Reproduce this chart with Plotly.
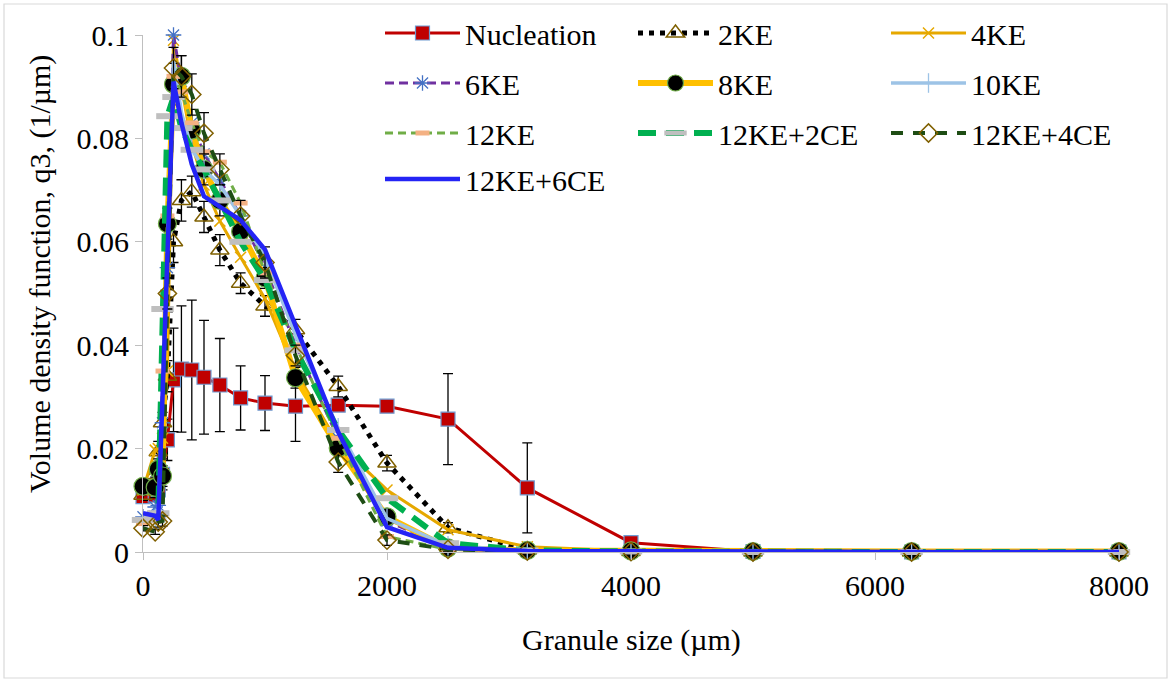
import plotly.graph_objects as go

# ---------------- data ----------------
granule_size = [0, 100, 125, 160, 200, 250, 315, 400, 500, 630, 800, 1000,
                1250, 1600, 2000, 2500, 3150, 4000, 5000, 6300, 8000]

nucleation = [0.0107, 0.0110, 0.0120, 0.0150, 0.0217, 0.0333, 0.0354, 0.0352, 0.0338, 0.0323, 0.0298,
              0.0288, 0.0282, 0.0284, 0.0282, 0.0257, 0.0124, 0.0018, 0.0001, 0.0, 0.0]
nucleation_err = [0.001, 0.001, 0.002, 0.003, 0.004, 0.010, 0.0122, 0.0135, 0.011, 0.009, 0.0062,
                  0.0053, 0.0068, 0.0010, 0.0005, 0.0088, 0.0087, 0.0003, 0.0, 0.0, 0.0]

ke2 = [0.0110, 0.0150, 0.0194, 0.0250, 0.0340, 0.0600, 0.0680, 0.0697, 0.0648, 0.0584, 0.0520,
       0.0476, 0.0430, 0.0320, 0.0172, 0.0047, 0.0004, 0.0001, 0.0, 0.0, 0.0]
ke2_err = [0.001, 0.002, 0.002, 0.002, 0.003, 0.004, 0.004, 0.003, 0.003, 0.003, 0.002,
           0.002, 0.002, 0.002, 0.0015, 0.001, 0.0003, 0.0, 0.0, 0.0, 0.0]

ke4 = [0.0120, 0.0197, 0.0200, 0.0220, 0.0350, 0.0990, 0.0900, 0.0790, 0.0710, 0.0640, 0.0570,
       0.0490, 0.0350, 0.0210, 0.0120, 0.0043, 0.0010, 0.0002, 0.0001, 0.0, 0.0]

ke6 = [0.0068, 0.0087, 0.0090, 0.0250, 0.0550, 0.1000, 0.0910, 0.0830, 0.0770, 0.0720, 0.0650,
       0.0550, 0.0400, 0.0220, 0.0060, 0.0008, 0.0002, 0.0001, 0.0, 0.0, 0.0]

ke8 = [0.0127, 0.0125, 0.0160, 0.0147, 0.0635, 0.0905, 0.0920, 0.0816, 0.0740, 0.0680, 0.0620,
       0.0530, 0.0337, 0.0201, 0.0068, 0.0008, 0.0003, 0.0002, 0.0001, 0.0001, 0.0001]
ke8_err = [0.001, 0.002, 0.002, 0.002, 0.003, 0.004, 0.004, 0.004, 0.003, 0.003, 0.002,
           0.002, 0.002, 0.001, 0.001, 0.0005, 0.0, 0.0, 0.0, 0.0, 0.0]

ke10 = [0.0060, 0.0065, 0.0080, 0.0300, 0.0600, 0.0950, 0.0850, 0.0780, 0.0740, 0.0710, 0.0650,
        0.0570, 0.0420, 0.0240, 0.0065, 0.0012, 0.0003, 0.0001, 0.0, 0.0, 0.0]

ke12 = [0.0055, 0.0060, 0.0070, 0.0350, 0.0650, 0.0920, 0.0890, 0.0830, 0.0774, 0.0754, 0.0675,
        0.0540, 0.0400, 0.0220, 0.0030, 0.0005, 0.0002, 0.0001, 0.0, 0.0, 0.0]

ke12_ce2 = [0.0062, 0.0065, 0.0075, 0.0470, 0.0843, 0.0880, 0.0820, 0.0778, 0.0740, 0.0680, 0.0600,
            0.0526, 0.0390, 0.0236, 0.0104, 0.0017, 0.0003, 0.0001, 0.0, 0.0, 0.0]

ke12_ce4 = [0.0046, 0.0039, 0.0058, 0.0060, 0.0500, 0.0936, 0.0920, 0.0885, 0.0810, 0.0740, 0.0650,
            0.0560, 0.0380, 0.0174, 0.0023, 0.0005, 0.0002, 0.0001, 0.0, 0.0, 0.0]
ke12_ce4_err = [0.0005, 0.0005, 0.001, 0.001, 0.003, 0.004, 0.004, 0.004, 0.004, 0.003, 0.003,
                0.003, 0.002, 0.002, 0.001, 0.0005, 0.0, 0.0, 0.0, 0.0, 0.0]

ke12_ce6 = [0.0075, 0.0070, 0.0062, 0.0296, 0.0570, 0.0910, 0.0830, 0.0750, 0.0688, 0.0668, 0.0642,
            0.0585, 0.0440, 0.0232, 0.0048, 0.0008, 0.0002, 0.0001, 0.0, 0.0, 0.0]

x_ticks = [0, 2000, 4000, 6000, 8000]
y_ticks = [0, 0.02, 0.04, 0.06, 0.08, 0.1]

FONT = "Liberation Serif, Times New Roman, serif"
FS = 30


def err(arr):
    return dict(type="data", array=arr, visible=True, color="black", thickness=1.3, width=5)


series = [
    dict(name="Nucleation", y=nucleation, error=nucleation_err, legend="legend",
         line=dict(color="#C00000", width=3),
         marker=dict(symbol="square", size=14, color="#C00000", line=dict(color="#6F9BD1", width=1.2))),
    dict(name="2KE", y=ke2, error=ke2_err, legend="legend",
         line=dict(color="black", width=5, dash="5px,6px"),
         marker=dict(symbol="triangle-up-open", size=16, color="#7F6000", line=dict(width=1.5))),
    dict(name="4KE", y=ke4, error=None, legend="legend",
         line=dict(color="#E6A800", width=3),
         marker=dict(symbol="x-thin-open", size=11, color="#E6A800", line=dict(width=1.5))),
    dict(name="6KE", y=ke6, error=None, legend="legend2",
         line=dict(color="#7030A0", width=3, dash="9px,5px"),
         marker=dict(symbol="asterisk-open", size=13, color="#4472C4", line=dict(width=1.3))),
    dict(name="8KE", y=ke8, error=ke8_err, legend="legend2",
         line=dict(color="#FFC000", width=6),
         marker=dict(symbol="circle", size=18, color="black", line=dict(color="#70AD47", width=1.2))),
    dict(name="10KE", y=ke10, error=None, legend="legend2",
         line=dict(color="#9DC3E6", width=3.5),
         marker=dict(symbol="line-ns-open", size=14, color="#9DC3E6", line=dict(width=1.3))),
    dict(name="12KE", y=ke12, error=None, legend="legend3",
         line=dict(color="#70AD47", width=3, dash="8px,5px"),
         marker=dict(symbol="line-ew-open", size=10, color="#F4B183", line=dict(width=5))),
    dict(name="12KE+2CE", y=ke12_ce2, error=None, legend="legend3",
         line=dict(color="#00B050", width=6, dash="18px,10px"),
         marker=dict(symbol="line-ew-open", size=16, color="#BFBFBF", line=dict(width=6))),
    dict(name="12KE+4CE", y=ke12_ce4, error=ke12_ce4_err, legend="legend3",
         line=dict(color="#1E4D14", width=4, dash="12px,10px"),
         marker=dict(symbol="diamond-open", size=14, color="#806000", line=dict(width=1.5))),
    dict(name="12KE+6CE", y=ke12_ce6, error=None, legend="legend4",
         line=dict(color="#2424F5", width=4.5),
         marker=None),
]

fig = go.Figure()
for s in series:
    kw = dict(x=granule_size, y=s["y"], name=s["name"], line=s["line"], cliponaxis=False,
              legend=s["legend"])
    if s["marker"] is None:
        kw["mode"] = "lines"
    else:
        kw["mode"] = "lines+markers"
        kw["marker"] = s["marker"]
    if s["error"] is not None:
        kw["error_y"] = err(s["error"])
    fig.add_trace(go.Scatter(**kw))

L, R, T, B = 143, 52, 35, 130
W, H = 1171, 682
pw, ph = W - L - R, H - T - B


def legend_row(top_px):
    return dict(
        orientation="h",
        x=(380 - L) / pw, xanchor="left",
        y=(H - B - top_px) / ph, yanchor="top",
        font=dict(family=FONT, size=FS, color="black"),
        itemwidth=75,
        entrywidth=163, entrywidthmode="pixels",
        bgcolor="rgba(0,0,0,0)",
        traceorder="normal",
    )


fig.update_layout(
    width=W, height=H,
    margin=dict(l=L, r=R, t=T, b=B, pad=0, autoexpand=False),
    paper_bgcolor="white", plot_bgcolor="white",
    font=dict(family=FONT, size=FS, color="black"),
    showlegend=True,
    legend=legend_row(7),
    legend2=legend_row(57),
    legend3=legend_row(107),
    legend4=legend_row(153),
    xaxis=dict(
        range=[0, 8000], tickvals=x_ticks, ticktext=[str(v) for v in x_ticks],
        showgrid=False, zeroline=False,
        showline=True, linecolor="#BFBFBF", linewidth=1,
        ticks="outside", ticklen=7, tickcolor="#BFBFBF",
        tickfont=dict(family=FONT, size=FS, color="black"),
        automargin=False,
    ),
    yaxis=dict(
        range=[0, 0.1], tickvals=y_ticks, ticktext=["0", "0.02", "0.04", "0.06", "0.08", "0.1"],
        showgrid=False, zeroline=False,
        showline=True, linecolor="#BFBFBF", linewidth=1,
        ticks="outside", ticklen=7, tickcolor="#BFBFBF",
        tickfont=dict(family=FONT, size=FS, color="black"),
        automargin=False,
    ),
    annotations=[
        dict(text="Granule size (µm)", xref="paper", yref="paper",
             x=0.5, y=(H - B - 640) / ph, xanchor="center", yanchor="middle",
             showarrow=False, font=dict(family=FONT, size=FS, color="black")),
        dict(text="Volume density function, q3, (1/µm)", xref="paper", yref="paper",
             x=(40 - L) / pw, y=(H - B - 274) / ph, xanchor="center", yanchor="middle",
             textangle=-90, showarrow=False, font=dict(family=FONT, size=FS, color="black")),
    ],
    shapes=[
        dict(type="rect", xref="paper", yref="paper",
             x0=(4 - L) / pw, x1=(1167 - L) / pw,
             y0=(H - B - 678) / ph, y1=(H - B - 4) / ph,
             line=dict(color="#D9D9D9", width=1.2), fillcolor="rgba(0,0,0,0)", layer="below"),
    ],
)

fig.write_html("out.html")
